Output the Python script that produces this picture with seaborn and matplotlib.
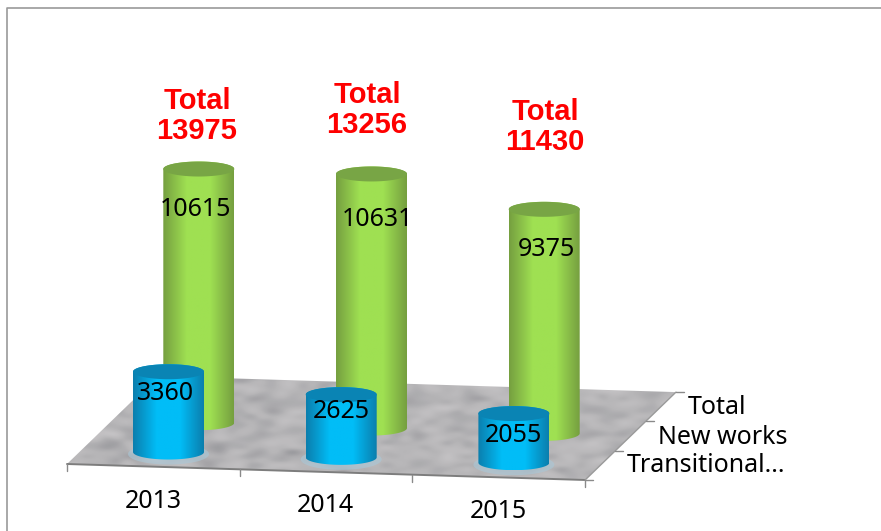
import numpy as np
import pandas as pd
import matplotlib
matplotlib.use('Agg')
import matplotlib.pyplot as plt
import seaborn as sns
from matplotlib.colors import ListedColormap
from matplotlib.patches import Polygon

# Values
years = ['2013', '2014', '2015']
new_works = [10615, 10631, 9375]
transitional = [3360, 2625, 2055]
totals = [13975, 13256, 11430]
depth_labels = ['Transitional...', 'New works', 'Total']

# Layout in pixels
origin = np.array([67.0, 464.0])
x_step = np.array([172.7, 5.33])
d_step = np.array([30.3, -29.3])
px_per_unit = 0.0239
rx, ry = 35.5, 7.5

total_pos = [(197, 116), (367, 110), (545, 127)]
green_label_pos = [(196, 209), (377, 219), (546, 249)]
blue_label_pos = [(166, 393), (341, 412), (513, 435)]
year_pos = [(153, 501), (325, 506), (498, 511)]
depth_pos = [(717, 408), (723, 437), (706, 465)]

sns.set_theme(style='white')
plt.rcParams['font.family'] = ['Noto Sans', 'DejaVu Sans']


def project(cat, depth, value=0):
    p = origin + cat * x_step + depth * d_step
    return p[0], p[1] - value * px_per_unit


def ellipse_arc(cx, cy, start, stop):
    t = np.linspace(start, stop, 60)
    return np.column_stack([cx + rx * np.cos(t), cy + ry * np.sin(t)])


def draw_cylinder(ax, cat, depth, value, edge, middle, top, glow=None):
    cx, base = project(cat, depth)
    _, head = project(cat, depth, value)
    if glow is not None:
        t = np.linspace(0, 2 * np.pi, 60)
        ax.fill(cx + (rx + 5) * np.cos(t), base + 2 + (ry + 3) * np.sin(t), color=glow, alpha=0.6, lw=0, zorder=2)
    # y is inverted: positive sin is the lower half of the ellipse
    outline = np.vstack([ellipse_arc(cx, base, 0, np.pi), ellipse_arc(cx, head, np.pi, 2 * np.pi)])
    patch = Polygon(outline, closed=True, fc='none', ec='none', transform=ax.transData)
    ax.add_patch(patch)
    shades = sns.blend_palette([edge, middle, middle, edge], 64)
    grad = np.linspace(0, 1, 64).reshape(1, -1)
    im = ax.imshow(grad, extent=(cx - rx, cx + rx, base + ry, head - ry), cmap=ListedColormap(shades),
                   aspect='auto', interpolation='bilinear', zorder=3)
    im.set_clip_path(patch)
    t = np.linspace(0, 2 * np.pi, 80)
    ax.fill(cx + rx * np.cos(t), head + ry * np.sin(t), color=top, lw=0, zorder=4)


fig = plt.figure(figsize=(8.81, 5.31), dpi=100)
ax = fig.add_axes([0, 0, 1, 1])
ax.set_axis_off()

# Frame of the picture
ax.plot([7, 7, 881], [531, 8, 8], color='#9a9a9a', lw=1.2, zorder=1)

# Floor with its mottled look
corners = [project(0, 0), project(3, 0), project(3, 3), project(0, 3)]
floor = Polygon(corners, closed=True, fc='none', ec='none')
ax.add_patch(floor)
rng = np.random.default_rng(4)
noise = rng.normal(size=(26, 60))
floor_cmap = ListedColormap(sns.blend_palette(['#98989c', '#b6b5b7', '#cbc9cb'], 64))
im = ax.imshow(noise, extent=(60, 680, 485, 370), cmap=floor_cmap, vmin=-2.2, vmax=2.2,
               aspect='auto', interpolation='bicubic', zorder=1)
im.set_clip_path(floor)
ax.plot(*zip(corners[0], corners[1]), color='#7d7d7d', lw=1.4, zorder=2)
ax.plot(*zip(corners[1], corners[2]), color='#9a9a9a', lw=1.0, zorder=2)

# Tick marks
tick_rows = []
for c in range(4):
    x, y = project(c, 0)
    tick_rows += [{'x': x, 'y': y, 'tick': f'c{c}'}, {'x': x, 'y': y + 7, 'tick': f'c{c}'}]
for d in range(4):
    x, y = project(3, d)
    tick_rows += [{'x': x, 'y': y, 'tick': f'd{d}'}, {'x': x + 8, 'y': y, 'tick': f'd{d}'}]
ticks = pd.DataFrame(tick_rows)
sns.lineplot(data=ticks, x='x', y='y', units='tick', estimator=None, color='#8a8a8a', lw=1,
             sort=False, legend=False, ax=ax, zorder=2)

# Cylinders, back row first
for i, v in enumerate(new_works):
    draw_cylinder(ax, i + 0.5, 1.5, v, '#76a040', '#9fe052', '#78a545')
for i, v in enumerate(transitional):
    draw_cylinder(ax, i + 0.5, 0.5, v, '#0b7fae', '#01bdf7', '#0a84b4', glow='#a9c8d8')

# Texts
for (x, y), v in zip(total_pos, totals):
    ax.text(x, y, f'Total\n{v}', color='#fe0000', fontsize=21, fontweight='bold', family='Liberation Sans',
            ha='center', va='center', linespacing=1.1, zorder=6)
for (x, y), v in zip(green_label_pos + blue_label_pos, new_works + transitional):
    ax.text(x, y, str(v), color='black', fontsize=18, ha='center', va='center', zorder=6)
for (x, y), t in zip(year_pos, years):
    ax.text(x, y, t, color='black', fontsize=18, ha='center', va='center', zorder=6)
for (x, y), t in zip(depth_pos, depth_labels[::-1]):
    ax.text(x, y, t, color='black', fontsize=18, ha='center', va='center', zorder=6)

ax.set_xlim(0, 881)
ax.set_ylim(531, 0)
ax.set_xlabel('')
ax.set_ylabel('')

fig.savefig('out.png', dpi=100, facecolor='white')
